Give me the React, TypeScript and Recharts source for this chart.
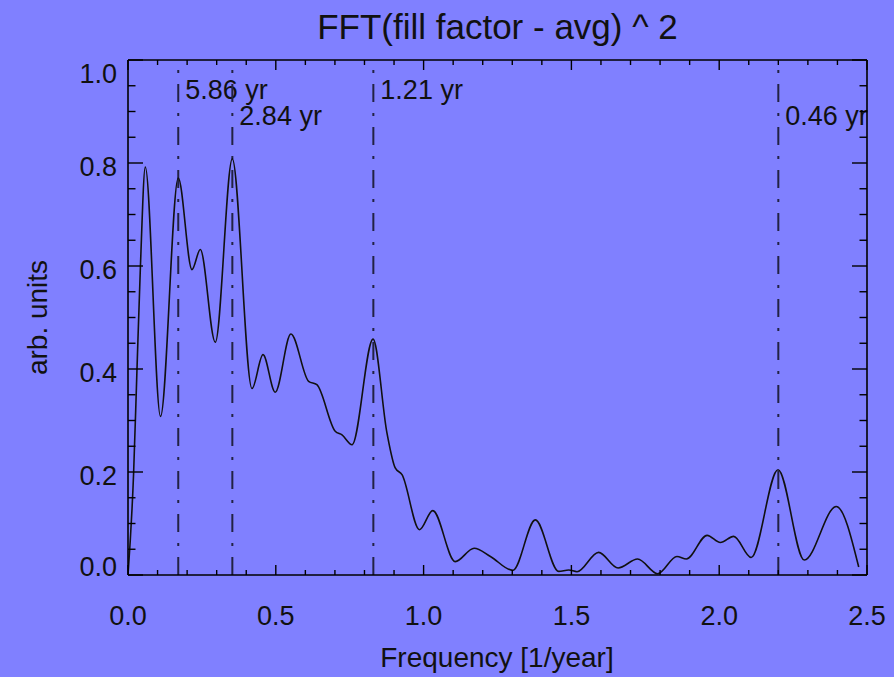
import { LineChart, Line, XAxis, YAxis, ReferenceLine } from "recharts";

// frequency [1/year] and power (arb. units)
const freqs = [
  0, 0.019, 0.03, 0.042, 0.0585, 0.11, 0.17, 0.2165, 0.2446, 0.2953, 0.3528,
  0.4195, 0.4567, 0.498, 0.551, 0.611, 0.639, 0.701, 0.724, 0.758, 0.829,
  0.876, 0.904, 0.927, 0.986, 1.031, 1.107, 1.171, 1.226, 1.302, 1.378, 1.457,
  1.491, 1.519, 1.592, 1.658, 1.724, 1.792, 1.857, 1.889, 1.959, 2.004, 2.049,
  2.108, 2.199, 2.288, 2.396, 2.472,
];
const power = [
  0, 0.198, 0.392, 0.599, 0.792, 0.308, 0.771, 0.593, 0.632, 0.452, 0.808,
  0.362, 0.428, 0.355, 0.468, 0.376, 0.3695, 0.279, 0.272, 0.253, 0.458,
  0.276, 0.208, 0.195, 0.088, 0.125, 0.026, 0.052, 0.036, 0.009, 0.107, 0.007,
  0.0097, 0.0064, 0.044, 0.0136, 0.031, 0.0025, 0.036, 0.031, 0.077, 0.063,
  0.075, 0.034, 0.2045, 0.029, 0.133, 0.0155,
];

const xTicks = [
  0, 0.1, 0.2, 0.3, 0.4, 0.5, 0.6, 0.7, 0.8, 0.9, 1.0, 1.1, 1.2, 1.3, 1.4,
  1.5, 1.6, 1.7, 1.8, 1.9, 2.0, 2.1, 2.2, 2.3, 2.4, 2.5,
];
const yTicks = [
  0, 0.05, 0.1, 0.15, 0.2, 0.25, 0.3, 0.35, 0.4, 0.45, 0.5, 0.55, 0.6, 0.65,
  0.7, 0.75, 0.8, 0.85, 0.9, 0.95, 1.0,
];

// dash-dot period markers
const periodFreqs = [0.17, 0.353, 0.83, 2.2];
const periodLabels = ["5.86 yr", "2.84 yr", "1.21 yr", "0.46 yr"];

const FONT = "'Liberation Sans', Arial, Helvetica, sans-serif";
const INK = "#111";

const rows = freqs.map((f, i) => ({ f, p: power[i] }));

const isMajor = (v: number, step: number) =>
  Math.abs(v / step - Math.round(v / step)) < 1e-6;

const BottomTick = ({ x, y, payload }: any) => {
  const major = isMajor(payload.value, 0.5);
  return (
    <g>
      <line x1={x} y1={y} x2={x} y2={y - (major ? 10 : 5)} stroke="#000" strokeWidth={1.4} />
      {major && (
        <text x={x} y={y + 50} textAnchor="middle" fontSize={27} fontFamily={FONT} fill={INK}>
          {payload.value.toFixed(1)}
        </text>
      )}
    </g>
  );
};

const TopTick = ({ x, y, payload }: any) => {
  const major = isMajor(payload.value, 0.5);
  return <line x1={x} y1={y} x2={x} y2={y + (major ? 10 : 5)} stroke="#000" strokeWidth={1.4} />;
};

const LeftTick = ({ x, y, payload }: any) => {
  const v = payload.value;
  const major = isMajor(v, 0.2);
  // end labels are pulled inside the frame
  const dy = v === 0 ? 1 : v === 1 ? 23 : 12.5;
  return (
    <g>
      <line x1={x} y1={y} x2={x + (major ? 15 : 7.5)} y2={y} stroke="#000" strokeWidth={1.4} />
      {major && (
        <text x={x - 11} y={y + dy} textAnchor="end" fontSize={27} fontFamily={FONT} fill={INK}>
          {v.toFixed(1)}
        </text>
      )}
    </g>
  );
};

const RightTick = ({ x, y, payload }: any) => {
  const major = isMajor(payload.value, 0.2);
  return <line x1={x} y1={y} x2={x - (major ? 15 : 7.5)} y2={y} stroke="#000" strokeWidth={1.4} />;
};

const PeriodLabel = ({ viewBox, text, dy }: any) => (
  <text x={viewBox.x + 7} y={viewBox.y + dy} fontSize={27} fontFamily={FONT} fill={INK}>
    {text}
  </text>
);

export default function App() {
  return (
    <div style={{ position: "absolute", left: 0, top: 0, width: 894, height: 677, background: "#8080ff" }}>
      <LineChart width={894} height={677} data={rows} margin={{ top: 30, right: 0, bottom: 72, left: 68 }}>
        <XAxis
          xAxisId="b" type="number" dataKey="f" domain={[0, 2.5]} ticks={xTicks} interval={0}
          height={30} tickSize={0} tickMargin={0} tick={<BottomTick />} tickLine={false}
          axisLine={{ stroke: "#000", strokeWidth: 1.6 }} allowDataOverflow
        />
        <XAxis
          xAxisId="t" orientation="top" type="number" dataKey="f" domain={[0, 2.5]} ticks={xTicks} interval={0}
          height={30} tickSize={0} tickMargin={0} tick={<TopTick />} tickLine={false}
          axisLine={{ stroke: "#000", strokeWidth: 1.6 }} allowDataOverflow
        />
        <YAxis
          yAxisId="l" type="number" domain={[0, 1]} ticks={yTicks} interval={0}
          width={60} tickSize={0} tickMargin={0} tick={<LeftTick />} tickLine={false}
          axisLine={{ stroke: "#000", strokeWidth: 1.6 }} allowDataOverflow
        />
        <YAxis
          yAxisId="r" orientation="right" type="number" domain={[0, 1]} ticks={yTicks} interval={0}
          width={27} tickSize={0} tickMargin={0} tick={<RightTick />} tickLine={false}
          axisLine={{ stroke: "#000", strokeWidth: 1.6 }} allowDataOverflow
        />
        {periodFreqs.map((f, i) => (
          <ReferenceLine
            key={f} x={f} xAxisId="b" yAxisId="l"
            stroke="#222244" strokeWidth={2} strokeDasharray="18 11 3 11"
            label={<PeriodLabel text={periodLabels[i]} dy={i % 2 === 0 ? 39 : 65} />}
          />
        ))}
        <Line
          xAxisId="b" yAxisId="l" type="monotone" dataKey="p" stroke="#111" strokeWidth={1.6}
          dot={false} activeDot={false} isAnimationActive={false}
        />
      </LineChart>
      <svg width={894} height={677} style={{ position: "absolute", left: 0, top: 0, pointerEvents: "none" }}>
        <text x={497.5} y={39} textAnchor="middle" fontSize={35} fontFamily={FONT} fill={INK}>
          FFT(fill factor - avg) ^ 2
        </text>
        <text x={497} y={667} textAnchor="middle" fontSize={28} fontFamily={FONT} fill={INK}>
          Frequency [1/year]
        </text>
        <text x={47} y={317.5} textAnchor="middle" fontSize={28} fontFamily={FONT} fill={INK} transform="rotate(-90, 47, 317.5)">
          arb. units
        </text>
      </svg>
    </div>
  );
}
